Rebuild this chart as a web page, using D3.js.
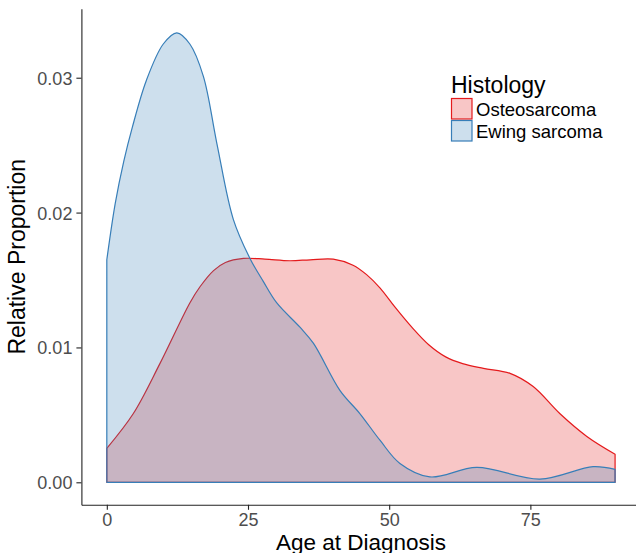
<!DOCTYPE html>
<html>
<head>
<meta charset="utf-8">
<script src="https://cdn.jsdelivr.net/npm/d3@7"></script>
<style>
  body { margin: 0; background: #fff; }
  svg { font-family: "Liberation Sans", Arial, sans-serif; }
  .axis path, .axis line { stroke: #222; stroke-width: 1.1; }
  .axis text { fill: #4d4d4d; font-size: 18px; }
</style>
</head>
<body>
<div id="chart"></div>
<script>
// Age at diagnosis vs. estimated density
var osteoAge = [0, 4.7, 9.4, 14.7, 16.5, 18.9, 21, 24.2, 28, 32.4, 36, 40.1, 43.6, 46, 48.4, 51, 54, 57, 60, 63, 66.7, 71.4, 75.5, 80.2, 85, 90];
var osteoDens = [0.00252, 0.0051, 0.0088, 0.0133, 0.0145, 0.0157, 0.0163, 0.0166, 0.01655, 0.01643, 0.0165, 0.01655, 0.0161, 0.0154, 0.0144, 0.0130, 0.0115, 0.0102, 0.0093, 0.0088, 0.00845, 0.00808, 0.0071, 0.0051, 0.0034, 0.00208];

var ewingAge = [0, 1.5, 3, 4.5, 7, 10, 12.4, 14.7, 17.1, 19.5, 22.4, 25.35, 27.7, 30.1, 34.2, 36.6, 41.3, 44.8, 48.4, 51.9, 57.2, 65.5, 76.7, 86.1, 90];
var ewingDens = [0.0165, 0.0207, 0.0238, 0.0263, 0.0298, 0.0325, 0.03333, 0.0325, 0.0301, 0.0251, 0.0195, 0.0166, 0.0149, 0.0133, 0.0115, 0.0103, 0.0068, 0.0051, 0.0031, 0.0014, 0.0004, 0.0011, 0.00024, 0.00116, 0.00096];

var groups = ["Osteosarcoma", "Ewing sarcoma"];
var colors = ["#e41a1c", "#377eb8"];

var xTicks = [0, 25, 50, 75];
var yTicks = [0, 0.01, 0.02, 0.03];

var svg = d3.select("#chart").append("svg")
    .attr("width", 636)
    .attr("height", 553);

var x = d3.scaleLinear()
    .domain([-4.5, 94.5])
    .range([81.4, 640.5]);

var y = d3.scaleLinear()
    .domain([-0.001668, 0.03511])
    .range([504.8, 8.8]);

var series = [
    d3.zip(osteoAge, osteoDens),
    d3.zip(ewingAge, ewingDens)
];

var area = d3.area()
    .curve(d3.curveCatmullRom.alpha(0.5))
    .x(function (d) { return x(d[0]); })
    .y0(y(0))
    .y1(function (d) { return y(d[1]); });

series.forEach(function (data, i) {
    svg.append("path")
        .datum(data)
        .attr("d", area)
        .attr("fill", colors[i])
        .attr("fill-opacity", 0.25)
        .attr("stroke", colors[i])
        .attr("stroke-width", 1.2)
        .attr("stroke-linejoin", "round");
});

// axes
var gx = svg.append("g")
    .attr("class", "axis")
    .attr("transform", "translate(0," + y.range()[0] + ")")
    .call(d3.axisBottom(x).tickValues(xTicks).tickSize(5).tickSizeOuter(0).tickPadding(3));

var gy = svg.append("g")
    .attr("class", "axis")
    .attr("transform", "translate(" + x.range()[0] + ",0)")
    .call(d3.axisLeft(y).tickValues(yTicks).tickFormat(d3.format(".2f")).tickSize(5).tickSizeOuter(0).tickPadding(4));

gx.selectAll("text").attr("dy", "0.72em");
gy.selectAll("text").attr("dy", "0.36em");

svg.append("text")
    .attr("x", (x.range()[0] + x.range()[1]) / 2)
    .attr("y", 549.5)
    .attr("text-anchor", "middle")
    .attr("font-size", 22.5)
    .text("Age at Diagnosis");

svg.append("text")
    .attr("transform", "translate(25," + (y.range()[0] + y.range()[1]) / 2 + ") rotate(-90)")
    .attr("text-anchor", "middle")
    .attr("font-size", 23)
    .text("Relative Proportion");

// legend
var legend = svg.append("g").attr("transform", "translate(451,0)");

legend.append("text")
    .attr("x", 0)
    .attr("y", 93)
    .attr("font-size", 23)
    .text("Histology");

groups.forEach(function (name, i) {
    var top = 98.5 + i * 22;
    legend.append("rect")
        .attr("x", 0.5)
        .attr("y", top)
        .attr("width", 20.5)
        .attr("height", 20.5)
        .attr("fill", colors[i])
        .attr("fill-opacity", 0.25)
        .attr("stroke", colors[i])
        .attr("stroke-width", 1.2);
    legend.append("text")
        .attr("x", 25)
        .attr("y", top + 17.5)
        .attr("font-size", 18.5)
        .text(name);
});
</script>
</body>
</html>
